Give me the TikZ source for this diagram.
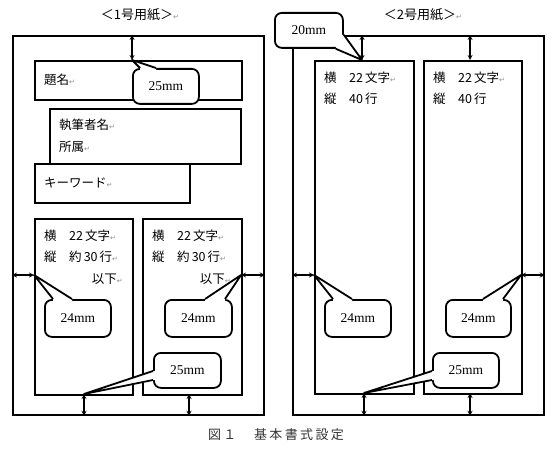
\documentclass[tikz,border=0pt]{standalone}
\usepackage{fontspec}
\setmainfont{Liberation Serif}
\newfontfamily\jp{Noto Sans CJK JP}
\newfontfamily\symfont{DejaVu Sans}
\usepackage{tikz}
\usetikzlibrary{arrows,calc}
\newcommand{\retmark}{{\symfont\color{black!45}\fontsize{7}{7}\selectfont ↵}}
\tikzset{
  page/.style={draw, rectangle, line width=1.8pt, inner sep=0pt, anchor=north west},
  box/.style={draw, rectangle, line width=2.4pt, fill=white, inner sep=0pt, anchor=north west},
  bubble/.style={draw, rectangle, line width=1.8pt, rounded corners=7pt, fill=white, inner sep=0pt, anchor=north west, font=\fontsize{13.5}{13.5}\selectfont},
  dim/.style={<->, >=stealth, line width=1.2pt},
  tail/.style={line width=1.8pt, line join=round},
  jptext/.style={anchor=west, inner sep=0pt, font=\jp\fontsize{12.5}{15}\selectfont}
}

\begin{document}
\begin{tikzpicture}[x=1pt, y=-1pt]
        \useasboundingbox (0,0) rectangle (556,449);
        % Headings
        \node[font=\jp\fontsize{13}{13}\selectfont] (head1) at (140,15) {＜1号用紙＞\retmark};
        \node[font=\jp\fontsize{13}{13}\selectfont] (head2) at (423,15) {＜2号用紙＞\retmark};
        
        % Sheet outlines
        \node[page, minimum width=251pt, minimum height=379pt] (page1) at (12,35) {};
        \node[page, minimum width=251pt, minimum height=379pt] (page2) at (292,35) {};
        
        % Sheet 1 blocks
        \node[box, minimum width=207pt, minimum height=39pt] (title) at (34,60) {};
        \node[box, minimum width=191pt, minimum height=55pt] (author) at (49,108) {};
        \node[box, minimum width=155pt, minimum height=39pt] (keyword) at (34,163) {};
        \node[box, minimum width=98pt, minimum height=176pt] (colA) at (34,218) {};
        \node[box, minimum width=99pt, minimum height=176pt] (colB) at (142,218) {};
        
        % Sheet 2 blocks
        \node[box, minimum width=99pt, minimum height=333pt] (colC) at (314,60) {};
        \node[box, minimum width=98pt, minimum height=333pt] (colD) at (423,60) {};
        
        % Texts in the blocks
        \node[jptext] (ttitle) at (44,80) {題名\retmark};
        \node[jptext] (tauthor) at (59,125) {執筆者名\retmark};
        \node[jptext] (taffil) at (59,147) {所属\retmark};
        \node[jptext] (tkey) at (44,183) {キーワード\retmark};
        \node[jptext] (tA1) at (44,236) {横　22\,文字\retmark};
        \node[jptext] (tA2) at (44,257) {縦　約\,30\,行\retmark};
        \node[jptext, anchor=east] (tA3) at (123,279) {以下\retmark};
        \node[jptext] (tB1) at (152,236) {横　22\,文字\retmark};
        \node[jptext] (tB2) at (152,257) {縦　約\,30\,行\retmark};
        \node[jptext, anchor=east] (tB3) at (231,279) {以下\retmark};
        \node[jptext] (tC1) at (324,78) {横　22\,文字\retmark};
        \node[jptext] (tC2) at (324,99) {縦　40\,行};
        \node[jptext] (tD1) at (433,78) {横　22\,文字\retmark};
        \node[jptext] (tD2) at (433,99) {縦　40\,行};
        
        % Points on the block edges
        \coordinate (tipT) at (132,60);
        \coordinate (tipA) at (34,275);
        \coordinate (tipB) at (241,275);
        \coordinate (tipE) at (84,394);
        \coordinate (botB) at (189,394);
        \coordinate (tipT2) at (362,60);
        \coordinate (topD) at (470,60);
        \coordinate (tipC) at (314,275);
        \coordinate (tipD) at (521,275);
        \coordinate (tipF) at (364,393);
        \coordinate (botD) at (470,393);
        
        % Margin arrows
        \draw[dim] (page1.north -| tipT) -- (tipT);
        \draw[dim] (page1.west |- tipA) -- (tipA);
        \draw[dim] (tipB) -- (page1.east |- tipB);
        \draw[dim] (tipE) -- (page1.south -| tipE);
        \draw[dim] (botB) -- (page1.south -| botB);
        \draw[dim] (page2.north -| tipT2) -- (tipT2);
        \draw[dim] (page2.north -| topD) -- (topD);
        \draw[dim] (page2.west |- tipC) -- (tipC);
        \draw[dim] (tipD) -- (page2.east |- tipD);
        \draw[dim] (tipF) -- (page2.south -| tipF);
        \draw[dim] (botD) -- (page2.south -| botD);
        
        % Callouts
        \node[bubble, minimum width=66pt, minimum height=35pt] (c25a) at (132,68) {25mm};
        \node[bubble, minimum width=68pt, minimum height=35pt] (c20) at (274,12) {20mm};
        \node[bubble, minimum width=66pt, minimum height=37pt] (c24a) at (44,299) {24mm};
        \node[bubble, minimum width=67pt, minimum height=37pt] (c24b) at (164,299) {24mm};
        \node[bubble, minimum width=67pt, minimum height=35pt] (c25b) at (153,352) {25mm};
        \node[bubble, minimum width=66pt, minimum height=37pt] (c24c) at (324,299) {24mm};
        \node[bubble, minimum width=65pt, minimum height=37pt] (c24d) at (445,299) {24mm};
        \node[bubble, minimum width=66pt, minimum height=35pt] (c25c) at (432,352) {25mm};
        
        % Callout pointers
        \fill[white] ($(c25a.north west)+(8,0)$) -- (tipT) -- ($(c25a.north west)+(24,0)$) -- ($(c25a.north west)+(24,2)$) -- ($(c25a.north west)+(8,2)$) -- cycle;
        \draw[tail] ($(c25a.north west)+(8,0)$) -- (tipT) -- ($(c25a.north west)+(24,0)$);
        \fill[white] ($(c20.south east)+(0,-14)$) -- (tipT2) -- ($(c20.south east)+(-8,0)$) -- ($(c20.south east)+(-8,-2)$) -- ($(c20.south east)+(-3,-5)$) -- ($(c20.south east)+(-2,-14)$) -- cycle;
        \draw[tail] ($(c20.south east)+(0,-14)$) -- (tipT2) -- ($(c20.south east)+(-8,0)$);
        \fill[white] ($(c24a.north west)+(9,0)$) -- (tipA) -- ($(c24a.north west)+(28,0)$) -- ($(c24a.north west)+(28,2)$) -- ($(c24a.north west)+(9,2)$) -- cycle;
        \draw[tail] ($(c24a.north west)+(9,0)$) -- (tipA) -- ($(c24a.north west)+(28,0)$);
        \fill[white] ($(c24b.north west)+(41,0)$) -- (tipB) -- ($(c24b.north west)+(61,0)$) -- ($(c24b.north west)+(61,2)$) -- ($(c24b.north west)+(41,2)$) -- cycle;
        \draw[tail] ($(c24b.north west)+(41,0)$) -- (tipB) -- ($(c24b.north west)+(61,0)$);
        \fill[white] ($(c25b.north west)+(0,19)$) -- (tipE) -- ($(c25b.north west)+(0,28)$) -- ($(c25b.north west)+(2,28)$) -- ($(c25b.north west)+(2,19)$) -- cycle;
        \draw[tail] ($(c25b.north west)+(0,19)$) -- (tipE) -- ($(c25b.north west)+(0,28)$);
        \fill[white] ($(c24c.north west)+(9,0)$) -- (tipC) -- ($(c24c.north west)+(28,0)$) -- ($(c24c.north west)+(28,2)$) -- ($(c24c.north west)+(9,2)$) -- cycle;
        \draw[tail] ($(c24c.north west)+(9,0)$) -- (tipC) -- ($(c24c.north west)+(28,0)$);
        \fill[white] ($(c24d.north west)+(38,0)$) -- (tipD) -- ($(c24d.north west)+(58,0)$) -- ($(c24d.north west)+(58,2)$) -- ($(c24d.north west)+(38,2)$) -- cycle;
        \draw[tail] ($(c24d.north west)+(38,0)$) -- (tipD) -- ($(c24d.north west)+(58,0)$);
        \fill[white] ($(c25c.north west)+(0,19)$) -- (tipF) -- ($(c25c.north west)+(0,28)$) -- ($(c25c.north west)+(2,28)$) -- ($(c25c.north west)+(2,19)$) -- cycle;
        \draw[tail] ($(c25c.north west)+(0,19)$) -- (tipF) -- ($(c25c.north west)+(0,28)$);
        
        % Caption
        \node[font=\jp\fontsize{13}{13}\selectfont\addfontfeature{LetterSpace=18}, text=black!80] (caption) at (276,435) {図１　基本書式設定};
    \end{tikzpicture}
\end{document}
